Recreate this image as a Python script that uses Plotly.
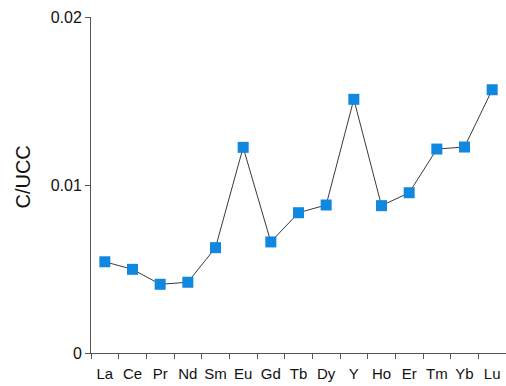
import plotly.graph_objects as go

elements = ["La", "Ce", "Pr", "Nd", "Sm", "Eu", "Gd", "Tb", "Dy", "Y", "Ho", "Er", "Tm", "Yb", "Lu"]
values = [0.00543, 0.00498, 0.00409, 0.00421, 0.00627, 0.01224, 0.00661, 0.00835,
          0.00881, 0.0151, 0.00877, 0.00954, 0.01214, 0.01226, 0.01567]
y_ticks = [0, 0.01, 0.02]
y_tick_labels = ["0", "0.01", "0.02"]

fig = go.Figure()
fig.add_trace(go.Scatter(
    x=elements, y=values, mode="lines+markers",
    line=dict(color="#3a3a3a", width=1),
    marker=dict(symbol="square", size=11, color="#1088df"),
    showlegend=False,
))

fig.update_layout(
    width=506, height=386,
    margin=dict(l=91, r=0, t=17, b=33),
    paper_bgcolor="white", plot_bgcolor="white",
    font=dict(family="Liberation Sans, Arial, sans-serif", color="#111"),
    annotations=[dict(
        text="C/UCC", textangle=-90, showarrow=False,
        xref="paper", yref="paper", x=-0.164, y=0.525,
        xanchor="center", yanchor="middle",
        font=dict(size=20, color="#111"),
    )],
)
fig.update_xaxes(
    type="category", range=[-0.5, 14.5], tickson="boundaries",
    ticks="outside", ticklen=5, tickcolor="#555", tickwidth=1,
    showline=True, linecolor="#555", linewidth=1,
    showgrid=False, zeroline=False, tickangle=0, ticklabelstandoff=7,
    tickfont=dict(size=15, color="#111"),
)
fig.update_yaxes(
    range=[0, 0.02], tickvals=y_ticks, ticktext=y_tick_labels,
    ticks="outside", ticklen=5, tickcolor="#555", tickwidth=1,
    showline=True, linecolor="#555", linewidth=1,
    showgrid=False, zeroline=False,
    tickfont=dict(size=16, color="#111"),
)

fig.write_html("out.html")
